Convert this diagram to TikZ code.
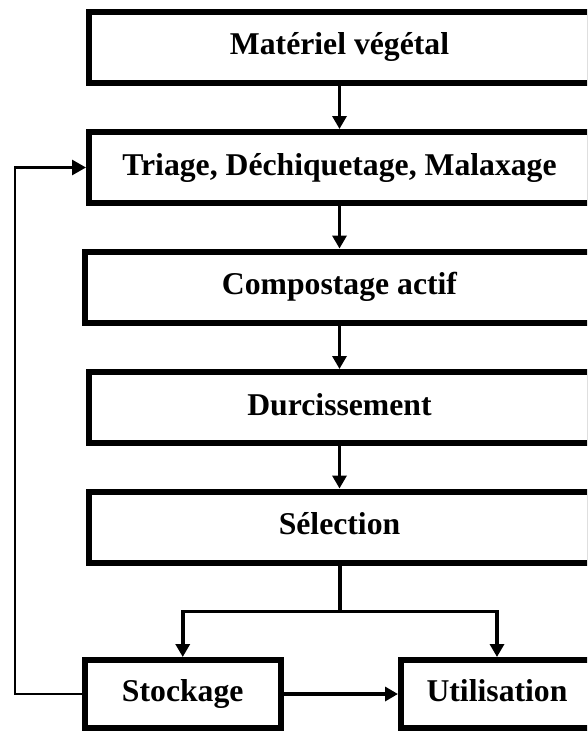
\documentclass[tikz,border=0pt]{standalone}
\usepackage{fontspec}
\setmainfont{Liberation Serif}
\usetikzlibrary{arrows.meta}
\begin{document}
\begin{tikzpicture}[x=1pt,y=-1pt,
  stepbox/.style={draw=black,line width=6pt,fill=white,inner sep=0pt,
    text height=22pt,text depth=7pt,
    font=\bfseries\fontsize{31.7}{38}\selectfont},
  conn/.style={line width=3.8pt},
  arr/.style={line width=3.8pt,-{Triangle[width=14pt,length=13pt]}},
  fb/.style={line width=2.8pt,-{Triangle[width=15pt,length=14pt]}}]
\useasboundingbox (0,0) rectangle (587,731);
\clip (0,0) rectangle (587,731);
\node[stepbox,minimum width=501pt,minimum height=71.5pt] (b1) at (339.5,47.25) {Matériel végétal};
\node[stepbox,minimum width=501pt,minimum height=71pt] (b2) at (339.5,167.5) {Triage, Déchiquetage, Malaxage};
\node[stepbox,minimum width=509pt,minimum height=71.5pt] (b3) at (339.5,287.25) {Compostage actif};
\node[stepbox,minimum width=501pt,minimum height=71pt] (b4) at (339.5,407.5) {Durcissement};
\node[stepbox,minimum width=501pt,minimum height=71.5pt] (b5) at (339.5,527.25) {Sélection};
\node[stepbox,minimum width=195.5pt,minimum height=68pt] (stock) at (182.75,694) {Stockage};
\node[stepbox,minimum width=192pt,minimum height=68pt] (util) at (497,694) {Utilisation};
\coordinate (j) at (340,611.5);
\draw[arr] (b1) -- (b2);
\draw[arr] (b2) -- (b3);
\draw[arr] (b3) -- (b4);
\draw[arr] (b4) -- (b5);
\draw[conn] (b5.south -| j) -- (j);
\draw[arr] (j) -| (stock);
\draw[arr] (j) -| (util);
\draw[arr] (stock.east |- util.west) -- (util.west);
\draw[fb] (stock.west) -- ++(-67,0) |- (b2.west);
\end{tikzpicture}
\end{document}
